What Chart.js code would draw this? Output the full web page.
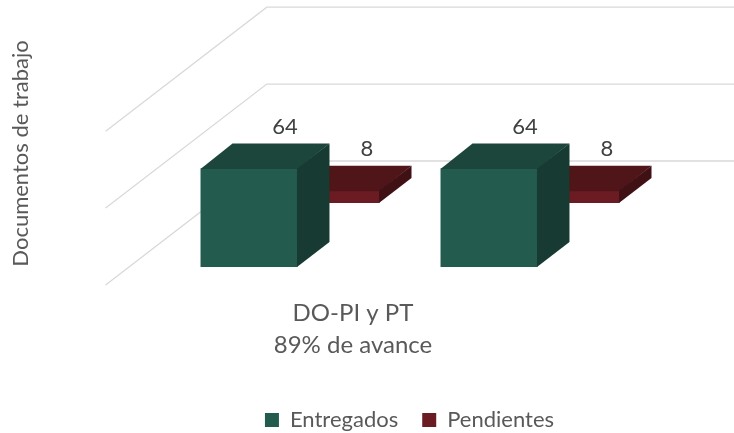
<!DOCTYPE html>
<html>
<head>
<meta charset="utf-8">
<script src="https://cdn.jsdelivr.net/npm/chart.js@4.4.1/dist/chart.umd.min.js"></script>
<style>
    html, body { margin: 0; padding: 0; background: #fff; }
</style>
</head>
<body>
<canvas id="chart" width="734" height="433"></canvas>
<script>
// values
const categories = [['DO-PI y PT', '89% de avance'], ''];
const seriesNames = ['Entregados', 'Pendientes'];
const entregados = [64, 64];
const pendientes = [8, 8];
const gridValues = [0, 50, 100];
const yMax = 147.6;

const FONT = 'Lato, "Open Sans", sans-serif';
const TEXT = '#595959';

// 3D look (px): bar depth, shift of the back row, floor edges
const DEPTH = { x: 32, y: -25 };
const ROW_SHIFT = { x: 82, y: -64 };
const WALL = { front: -18, back: 106, slope: 1.3 };

const faces = [
    { front: '#235b4e', top: '#1c463c', side: '#173a32' },
    { front: '#6a1c22', top: '#4f1519', side: '#401114' }
];

function poly(ctx, pts, color) {
    ctx.beginPath();
    ctx.moveTo(pts[0][0], pts[0][1]);
    for (let i = 1; i < pts.length; i++) ctx.lineTo(pts[i][0], pts[i][1]);
    ctx.closePath();
    ctx.fillStyle = color;
    ctx.fill();
}

const bars3d = {
    id: 'bars3d',
    beforeDatasetsDraw(chart) {
        const { ctx, chartArea, scales } = chart;
        ctx.save();
        ctx.strokeStyle = '#d9d9d9';
        ctx.lineWidth = 1.3;
        gridValues.forEach(v => {
            const y = scales.y.getPixelForValue(v);
            const fx = chartArea.left + WALL.front * WALL.slope;
            const bx = chartArea.left + WALL.back * WALL.slope;
            ctx.beginPath();
            ctx.moveTo(fx, y - WALL.front);
            ctx.lineTo(bx, y - WALL.back);
            ctx.lineTo(chartArea.right + WALL.back * WALL.slope, y - WALL.back);
            ctx.stroke();
        });
        ctx.restore();
    },
    beforeDatasetDraw(chart, args) {
        if (args.index === 1) {
            chart.ctx.save();
            chart.ctx.translate(ROW_SHIFT.x, ROW_SHIFT.y);
        }
    },
    afterDatasetDraw(chart, args) {
        const ctx = chart.ctx;
        const f = faces[args.index];
        args.meta.data.forEach(bar => {
            const { x, y, base, width } = bar.getProps(['x', 'y', 'base', 'width'], true);
            const l = x - width / 2, r = x + width / 2;
            poly(ctx, [[l, y + 0.5], [l + DEPTH.x, y + DEPTH.y], [r + DEPTH.x, y + DEPTH.y], [r, y + 0.5]], f.top);
            poly(ctx, [[r - 0.5, y], [r + DEPTH.x, y + DEPTH.y], [r + DEPTH.x, base + DEPTH.y], [r - 0.5, base]], f.side);
        });
        if (args.index === 1) ctx.restore();
    },
    afterDatasetsDraw(chart) {
        const ctx = chart.ctx;
        ctx.save();
        ctx.font = '22px ' + FONT;
        ctx.fillStyle = '#404040';
        ctx.textAlign = 'center';
        ctx.textBaseline = 'bottom';
        chart.data.datasets.forEach((ds, i) => {
            const shift = i === 1 ? ROW_SHIFT : { x: 0, y: 0 };
            chart.getDatasetMeta(i).data.forEach((bar, j) => {
                ctx.fillText(String(ds.data[j]), bar.x + shift.x + DEPTH.x + 4, bar.y + shift.y + DEPTH.y - 6);
            });
        });
        ctx.restore();
    }
};

const legendShift = {
    id: 'legendShift',
    afterLayout(chart) {
        const lg = chart.legend;
        lg.left += 105; lg.right += 105;
        lg.top += 8; lg.bottom += 8;
    }
};

new Chart(document.getElementById('chart'), {
    type: 'bar',
    data: {
        labels: categories,
        datasets: [
            { label: seriesNames[0], data: entregados, backgroundColor: faces[0].front, clip: false },
            { label: seriesNames[1], data: pendientes, backgroundColor: faces[1].front, clip: false }
        ]
    },
    options: {
        responsive: false,
        animation: false,
        grouped: false,
        categoryPercentage: 1,
        barPercentage: 0.404,
        layout: { padding: { top: 40, right: 125, bottom: 0, left: 0 } },
        plugins: {
            tooltip: { enabled: false },
            legend: {
                position: 'bottom',
                labels: {
                    boxWidth: 14, boxHeight: 14, padding: 24,
                    color: TEXT, font: { family: FONT, size: 22 }
                }
            }
        },
        scales: {
            x: {
                grid: { display: false, drawTicks: false },
                border: { display: false },
                ticks: {
                    color: TEXT, font: { family: FONT, size: 24, lineHeight: 1.333 },
                    padding: 30, labelOffset: 104, maxRotation: 0, autoSkip: false
                },
                afterFit(scale) { scale.height = 110; }
            },
            y: {
                min: 0, max: yMax,
                grid: { display: false, drawTicks: false },
                border: { display: false },
                ticks: { display: false },
                title: {
                    display: true, text: 'Documentos de trabajo', color: TEXT,
                    font: { family: FONT, size: 22 }, padding: { top: 8, bottom: 94.6 }
                }
            }
        }
    },
    plugins: [bars3d, legendShift]
});
</script>
</body>
</html>
